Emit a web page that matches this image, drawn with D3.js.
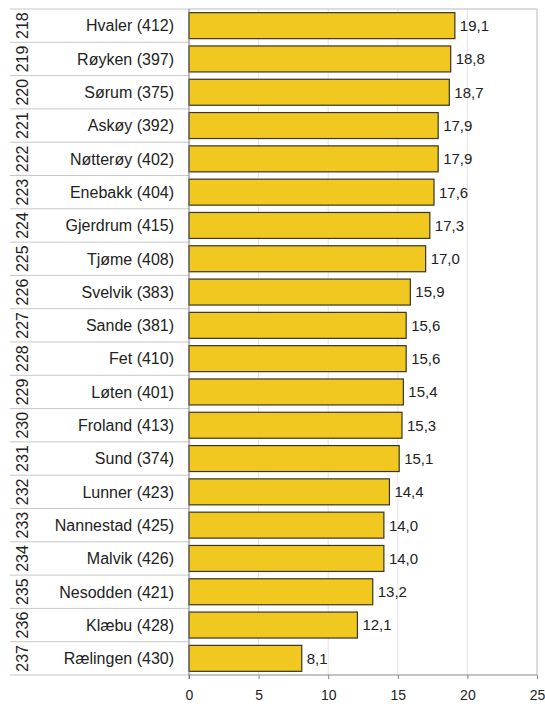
<!DOCTYPE html>
<html>
<head>
<meta charset="utf-8">
<script src="https://cdn.jsdelivr.net/npm/d3@7"></script>
<style>
  body { margin: 0; background: #fff; }
  text { font-family: "Liberation Sans", Arial, sans-serif; fill: #222; }
</style>
</head>
<body>
<div class="graph"></div>
<script>
const w = 545;
const h = 704;
const margin = {top: 9, right: 8, bottom: 29, left: 189};

const ranks = [218, 219, 220, 221, 222, 223, 224, 225, 226, 227, 228, 229, 230, 231, 232, 233, 234, 235, 236, 237];
const names = ["Hvaler (412)", "Røyken (397)", "Sørum (375)", "Askøy (392)", "Nøtterøy (402)", "Enebakk (404)",
  "Gjerdrum (415)", "Tjøme (408)", "Svelvik (383)", "Sande (381)", "Fet (410)", "Løten (401)", "Froland (413)",
  "Sund (374)", "Lunner (423)", "Nannestad (425)", "Malvik (426)", "Nesodden (421)", "Klæbu (428)", "Rælingen (430)"];
const values = [19.1, 18.8, 18.7, 17.9, 17.9, 17.6, 17.3, 17.0, 15.9, 15.6, 15.6, 15.4, 15.3, 15.1, 14.4, 14.0, 14.0, 13.2, 12.1, 8.1];
const xTicks = [0, 5, 10, 15, 20, 25];

const rows = names.map((n, i) => ({name: n, rank: ranks[i], value: values[i]}));
const fmt = d => d3.format(".1f")(d).replace(".", ",");

const canvas = d3.select(".graph")
  .append("svg")
  .attr("width", w)
  .attr("height", h);

const xScale = d3.scaleLinear()
  .domain([0, 25])
  .range([margin.left, w - margin.right]);

const yScale = d3.scaleBand()
  .domain(names)
  .range([margin.top, h - margin.bottom])
  .paddingInner(0.22)
  .paddingOuter(0.11);

// row grid for the label table
const step = yScale.step();
const rowEdges = d3.range(names.length + 1).map(i => margin.top + i * step);

canvas.append("g")
  .selectAll("line")
  .data(rowEdges)
  .enter().append("line")
  .attr("x1", 10)
  .attr("x2", margin.left)
  .attr("y1", d => d)
  .attr("y2", d => d)
  .attr("stroke", "#c8c8c8")
  .attr("stroke-width", 1);

// vertical gridlines
canvas.append("g")
  .selectAll("line")
  .data(xTicks.slice(1, -1))
  .enter().append("line")
  .attr("x1", d => xScale(d))
  .attr("x2", d => xScale(d))
  .attr("y1", margin.top)
  .attr("y2", h - margin.bottom)
  .attr("stroke", "#e4e4ec")
  .attr("stroke-width", 1);

// plot frame (top and right)
canvas.append("path")
  .attr("d", `M${margin.left},${margin.top}H${w - margin.right}V${h - margin.bottom}`)
  .attr("fill", "none")
  .attr("stroke", "#b8b8b8")
  .attr("stroke-width", 1);

// bars
canvas.append("g")
  .selectAll("rect")
  .data(rows)
  .enter().append("rect")
  .attr("x", xScale(0))
  .attr("y", d => yScale(d.name))
  .attr("width", d => xScale(d.value) - xScale(0))
  .attr("height", yScale.bandwidth())
  .attr("fill", "#f0c820")
  .attr("stroke", "#3a3420")
  .attr("stroke-width", 1.2);

// value labels
canvas.append("g")
  .selectAll("text")
  .data(rows)
  .enter().append("text")
  .attr("x", d => xScale(d.value) + 5)
  .attr("y", d => yScale(d.name) + yScale.bandwidth() / 2)
  .attr("dy", "0.36em")
  .attr("font-size", 15)
  .text(d => fmt(d.value));

// category labels
canvas.append("g")
  .selectAll("text")
  .data(rows)
  .enter().append("text")
  .attr("x", 174)
  .attr("y", d => yScale(d.name) + yScale.bandwidth() / 2)
  .attr("dy", "0.36em")
  .attr("text-anchor", "end")
  .attr("font-size", 16)
  .text(d => d.name);

// rank labels, rotated
canvas.append("g")
  .selectAll("text")
  .data(rows)
  .enter().append("text")
  .attr("transform", d => `translate(22, ${yScale(d.name) + yScale.bandwidth() / 2}) rotate(-90)`)
  .attr("dy", "0.36em")
  .attr("text-anchor", "middle")
  .attr("font-size", 16)
  .text(d => d.rank);

// x axis
const xAxis = d3.axisBottom(xScale)
  .tickValues(xTicks)
  .tickSize(4)
  .tickPadding(11)
  .tickFormat(d3.format("d"));

const ax = canvas.append("g")
  .attr("transform", `translate(0, ${h - margin.bottom})`)
  .call(xAxis);
ax.select(".domain").attr("stroke", "#888").attr("d", `M${margin.left},0H${w - margin.right}`);
ax.selectAll(".tick line").attr("stroke", "#888");
ax.selectAll(".tick text").attr("font-size", 14).attr("fill", "#222")
  .style("font-family", "'Liberation Sans', Arial, sans-serif");

// y axis line at zero
canvas.append("line")
  .attr("x1", margin.left)
  .attr("x2", margin.left)
  .attr("y1", margin.top)
  .attr("y2", h - margin.bottom + 4)
  .attr("stroke", "#777")
  .attr("stroke-width", 1);
</script>
</body>
</html>
